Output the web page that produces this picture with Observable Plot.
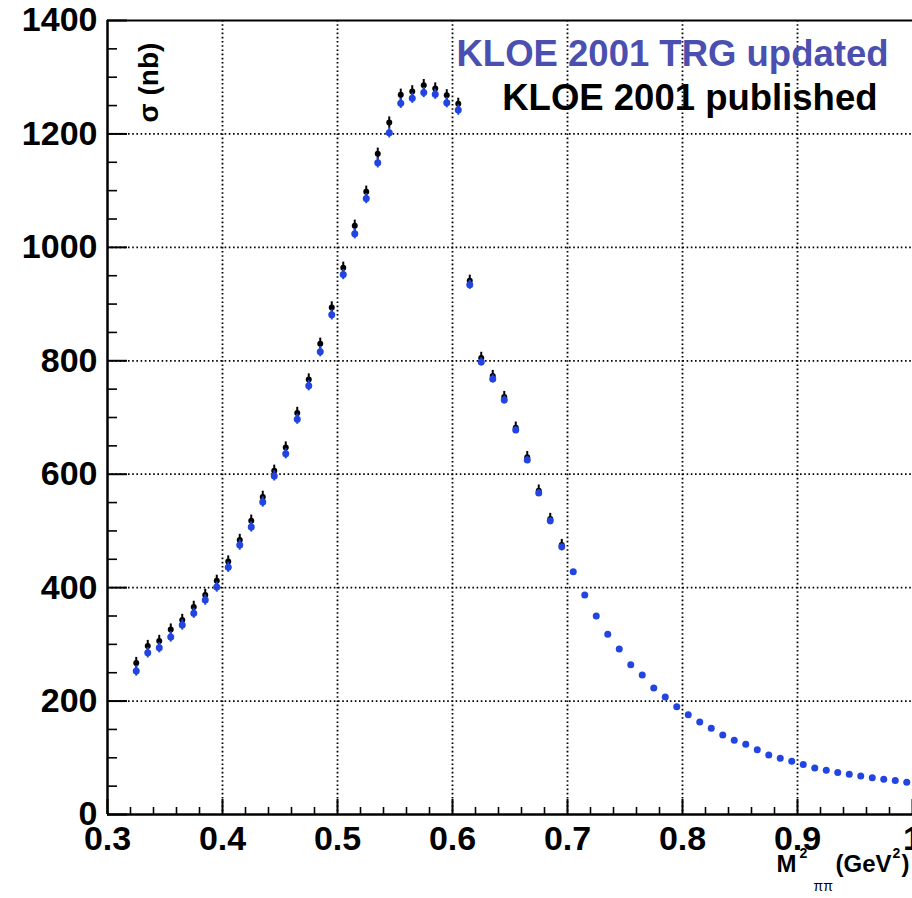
<!DOCTYPE html>
<html><head><meta charset="utf-8">
<script src="https://cdn.jsdelivr.net/npm/d3@7"></script>
<script src="https://cdn.jsdelivr.net/npm/@observablehq/plot@0.6"></script>
<style>html,body{margin:0;padding:0;background:#fff;overflow:hidden}</style>
</head><body><div id="chart"></div>
<script>
// KLOE 2001 TRG updated (blue)
const updX = [0.325,0.335,0.345,0.355,0.365,0.375,0.385,0.395,0.405,0.415,0.425,0.435,0.445,0.455,0.465,0.475,0.485,0.495,0.505,0.515,0.525,0.535,0.545,0.555,0.565,0.575,0.585,0.595,0.605,0.615,0.625,0.635,0.645,0.655,0.665,0.675,0.685,0.695,0.705,0.715,0.725,0.735,0.745,0.755,0.765,0.775,0.785,0.795,0.805,0.815,0.825,0.835,0.845,0.855,0.865,0.875,0.885,0.895,0.905,0.915,0.925,0.935,0.945,0.955,0.965,0.975,0.985,0.995];
const updY = [253,285,294,313,334,355,378,401,436,475,507,551,597,636,697,756,816,881,952,1024,1086,1149,1202,1254,1263,1273,1270,1255,1242,934,798,768,731,678,625,567,518,472,428,387,350,318,292,264,246,223,207,190,176,163,152,140,131,124,114,105,99,94,88,82,78,74,71,68,65,62,60,57];
const updErr = [9,9,9,9,9,9,9,9,9,9,9,9,9,9,9,9,9,9,9,9,9,9,9,9,9,9,9,9,9,8,7,7,7,6,6,6,5,5,4,4,4,4,3,3,3,3,3,3,3,3,3,3,3,3,3,3,3,3,3,3,3,3,3,3,3,3,3,3];
// KLOE 2001 published (black)
const pubX = [0.325,0.335,0.345,0.355,0.365,0.375,0.385,0.395,0.405,0.415,0.425,0.435,0.445,0.455,0.465,0.475,0.485,0.495,0.505,0.515,0.525,0.535,0.545,0.555,0.565,0.575,0.585,0.595,0.605,0.615,0.625,0.635,0.645,0.655,0.665,0.675,0.685,0.695];
const pubY = [267,297,306,326,343,366,387,412,446,484,518,560,606,647,708,767,830,894,964,1038,1098,1165,1220,1269,1275,1286,1280,1268,1253,941,805,773,736,682,630,571,521,475];
const pubErr = 10;

const xMajor = [0.3,0.4,0.5,0.6,0.7,0.8,0.9,1.0];
const xMinor = [0.32,0.34,0.36,0.38,0.42,0.44,0.46,0.48,0.52,0.54,0.56,0.58,0.62,0.64,0.66,0.68,0.72,0.74,0.76,0.78,0.82,0.84,0.86,0.88,0.92,0.94,0.96,0.98];
const yMajor = [0,200,400,600,800,1000,1200,1400];
const yMinor = [50,100,150,250,300,350,450,500,550,650,700,750,850,900,950,1050,1100,1150,1250,1300,1350];
const xGrid = [0.4,0.5,0.6,0.7,0.8,0.9];
const yGrid = [200,400,600,800,1000,1200];

const upd = updX.map((x,i)=>({x, y: updY[i], e: updErr[i]}));
const pub = pubX.map((x,i)=>({x, y: pubY[i]}));

const blue = "#2244e0";
const legendBlue = "#4b4fb0";
const font = "Liberation Sans, Arial, Helvetica, sans-serif";
const T = {lineAnchor: "middle", fontWeight: "bold", fill: "black"};
const tickColor = "black";

const chart = Plot.plot({
  width: 912, height: 898,
  marginLeft: 107, marginRight: 0, marginTop: 20, marginBottom: 84,
  x: {domain: [0.3, 1.0]},
  y: {domain: [0, 1400]},
  style: {fontFamily: font, fontWeight: "bold", fontSize: "34px", overflow: "visible", background: "#fff"},
  marks: [
    Plot.gridX(xGrid, {stroke: "black", strokeOpacity: 1, strokeWidth: 1.8, strokeDasharray: "1.6,2.6"}),
    Plot.gridY(yGrid, {stroke: "black", strokeOpacity: 1, strokeWidth: 1.8, strokeDasharray: "1.6,2.6"}),
    Plot.ruleX([0.3], {stroke: "black", strokeWidth: 2.5}),
    Plot.ruleY([0], {stroke: "black", strokeWidth: 2.5}),
    Plot.ruleY([1400], {stroke: "black", strokeWidth: 2.2}),
    Plot.axisX({ticks: xMajor, tickSize: -15, tickPadding: 26, label: null, fontSize: 34,
      tickFormat: d => d === 1 ? "1" : d3.format(".1f")(d), strokeWidth: 2, stroke: tickColor}),
    Plot.axisX({ticks: xMinor, tickSize: -7, tickFormat: () => "", label: null, strokeWidth: 1.6, stroke: tickColor}),
    Plot.axisY({ticks: yMajor, tickSize: -20, tickPadding: 30, label: null, fontSize: 34,
      tickFormat: d => String(d), strokeWidth: 2, stroke: tickColor}),
    Plot.axisY({ticks: yMinor, tickSize: -10, tickFormat: () => "", label: null, strokeWidth: 1.6, stroke: tickColor}),
    Plot.ruleX(pub, {x: "x", y1: d => d.y - pubErr, y2: d => d.y + pubErr, stroke: "black", strokeWidth: 2}),
    Plot.dot(pub, {x: "x", y: "y", r: 3, fill: "black"}),
    Plot.ruleX(upd, {x: "x", y1: d => d.y - d.e, y2: d => d.y + d.e, stroke: blue, strokeWidth: 2}),
    Plot.dot(upd, {x: "x", y: "y", r: 3.5, fill: blue}),
    Plot.text(["KLOE 2001 TRG updated"], {...T, frameAnchor: "top-right", dx: -24, dy: 34, textAnchor: "end", fontSize: 36.5, fill: legendBlue}),
    Plot.text(["KLOE 2001 published"], {...T, frameAnchor: "top-right", dx: -35, dy: 78, textAnchor: "end", fontSize: 36.5}),
    Plot.text(["σ (nb)"], {...T, frameAnchor: "top-left", dx: 42, dy: 62, rotate: -90, textAnchor: "middle", fontSize: 28}),
    Plot.text(["M"], {...T, frameAnchor: "bottom-right", dx: -136, dy: 50, textAnchor: "start", fontSize: 24}),
    Plot.text(["2"], {...T, frameAnchor: "bottom-right", dx: -113, dy: 39, textAnchor: "start", fontSize: 14}),
    Plot.text(["ππ"], {...T, frameAnchor: "bottom-right", dx: -99, dy: 72, textAnchor: "start", fontSize: 14, fontWeight: "normal"}),
    Plot.text(["(GeV"], {...T, frameAnchor: "bottom-right", dx: -77, dy: 50, textAnchor: "start", fontSize: 24}),
    Plot.text(["2"], {...T, frameAnchor: "bottom-right", dx: -20, dy: 39, textAnchor: "start", fontSize: 14}),
    Plot.text([")"], {...T, frameAnchor: "bottom-right", dx: -11, dy: 50, textAnchor: "start", fontSize: 24})
  ]
});
document.getElementById("chart").appendChild(chart);
</script></body></html>
